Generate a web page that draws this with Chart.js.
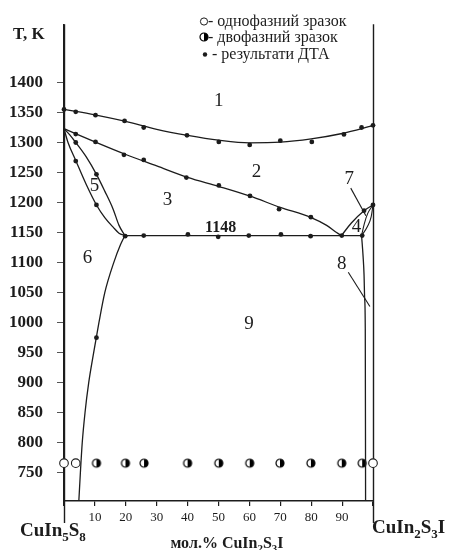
<!DOCTYPE html>
<html>
<head>
<meta charset="utf-8">
<title>CuIn5S8 - CuIn2S3I</title>
<script src="https://cdn.jsdelivr.net/npm/chart.js@4.4.0/dist/chart.umd.min.js"></script>
<style>
  html, body { margin: 0; padding: 0; background: #fff; }
  #wrap { width: 449px; height: 550px; }
</style>
</head>
<body>
<div id="wrap"><canvas id="phaseChart" width="449" height="550"></canvas></div>
<script>
// --- Tick values ---
const xTicks = [0, 10, 20, 30, 40, 50, 60, 70, 80, 90, 100];
const yTicks = [750, 800, 850, 900, 950, 1000, 1050, 1100, 1150, 1200, 1250, 1300, 1350, 1400];

// --- Lines of the diagram (mol.% CuIn2S3I, T in K) ---
// liquidus (top, border of field 1)
const liquidusX = [0, 10, 20, 30, 40, 50, 60, 70, 80, 90, 100];
const liquidusT = [1355, 1346, 1335, 1322, 1312, 1304, 1299.5, 1300.5, 1306, 1315, 1328];

// border 2 / 3, down to the eutectic
const line2X = [0, 10, 20, 30, 40, 50, 60, 70, 80, 85, 88.2, 89.8];
const line2T = [1323, 1301, 1280, 1261, 1242, 1227, 1211, 1192, 1175, 1162, 1150, 1145];

// eutectic horizontal
const eutecticX = [19.7, 96.3];
const eutecticT = [1145, 1145];

// lens 5 (inner and outer branch)
const lensInX = [0, 1.8, 3.8, 7.2, 10.5, 13.2, 15.9, 17.8, 19.7];
const lensInT = [1323, 1313, 1300, 1276, 1247, 1219, 1189, 1162, 1145];
const lensOutX = [0, 1.3, 3.8, 7.2, 10.5, 13.2, 15.9, 17.8, 19.7];
const lensOutT = [1323, 1300, 1270, 1230, 1196, 1175, 1159, 1149, 1145];

// solvus of the CuIn5S8 solid solution (border 6 / 9)
const solvusLX = [4.8, 5.3, 5.9, 6.8, 8.0, 9.6, 11.3, 13.2, 16.1, 18.3, 19.7];
const solvusLT = [703, 750, 800, 850, 900, 950, 1000, 1050, 1100, 1130, 1145];

// right side: liquidus from the eutectic, lens 7, solvus 8
const liqRightX = [89.8, 93, 97.1, 100];
const liqRightT = [1145, 1166, 1186.5, 1196];
const lens7aX = [96.3, 97.2, 98.3, 100];
const lens7aT = [1145, 1165, 1182, 1196];
const lens7bX = [96.3, 98.2, 99.4, 100];
const lens7bT = [1145, 1160, 1176, 1196];
const solvusRX = [96.3, 96.8, 97.1, 97.3, 97.5, 97.6];
const solvusRT = [1145, 1110, 1080, 1040, 990, 703];

// pointer lines for labels 7 and 8
const pointer7X = [92.8, 97.7];
const pointer7T = [1224, 1178];
const pointer8X = [92, 99];
const pointer8T = [1084, 1027];

// --- Measured points ---
// DTA results
const dtaX = [0, 3.8, 10.2, 19.6, 25.8, 39.8, 50.1, 60.1, 70, 80.2, 90.6, 96.3, 100,
              3.8, 10.2, 19.4, 25.8, 39.6, 50.1, 60.2, 69.6, 79.9,
              3.8, 10.5, 3.8, 10.5, 10.5,
              19.8, 25.8, 40.1, 49.9, 59.8, 70.2, 79.8, 89.9, 96.5,
              97.1, 100];
const dtaT = [1355, 1351, 1345.5, 1336, 1325, 1312, 1301, 1296, 1303, 1301, 1313.5, 1325, 1328.6,
              1314, 1301, 1279.4, 1271, 1241.6, 1228.6, 1211, 1189, 1175.6,
              1300, 1247, 1269, 1196, 975,
              1144, 1145, 1147, 1143, 1145, 1147, 1144, 1145, 1145,
              1186.5, 1196];

// samples after annealing
const sampleT = 766;
const singlePhaseX = [0, 3.8, 100];
const twoPhaseX = [10.5, 19.9, 25.9, 40, 50.1, 60.1, 69.9, 79.9, 89.9, 96.5];

// field labels
const regionLabels = ['1', '2', '3', '4', '5', '6', '7', '8', '9'];
const regionX = [50.1, 62.3, 33.5, 94.7, 9.9, 7.6, 92.3, 89.9, 59.9];
const regionT = [1369, 1251, 1205, 1159, 1227, 1108, 1240, 1097, 997];

// --- Helpers ---
const SERIF = "'Liberation Serif', 'Times New Roman', serif";
const INK = '#1c1c1c';

function toPoints(xs, ys) {
    return xs.map((x, i) => ({ x: x, y: ys[i] }));
}

// smooth line through the points (x must grow)
function curve(xs, ys, smooth = true, width = 1.3) {
    return {
        data: toPoints(xs, ys),
        showLine: true,
        borderColor: INK,
        borderWidth: width,
        pointRadius: 0,
        cubicInterpolationMode: smooth ? 'monotone' : 'default',
        tension: 0
    };
}

// half filled circle as point style
function makeHalfCircle(r) {
    const c = document.createElement('canvas');
    const s = 2 * Math.ceil(r + 1.5);
    c.width = s; c.height = s;
    const g = c.getContext('2d');
    const m = s / 2;
    g.fillStyle = '#fff';
    g.beginPath(); g.arc(m, m, r, 0, Math.PI * 2); g.fill();
    g.fillStyle = '#000';
    g.beginPath(); g.arc(m, m, r, -Math.PI / 2, Math.PI / 2); g.closePath(); g.fill();
    g.strokeStyle = '#000'; g.lineWidth = 1.2;
    g.beginPath(); g.arc(m, m, r, 0, Math.PI * 2); g.stroke();
    return c;
}
const halfCircle = makeHalfCircle(4);

// text with subscripts, parts = [[text, isSub], ...]
function drawSubText(ctx, parts, x, y, size, align) {
    const big = `bold ${size}px ${SERIF}`;
    const small = `bold ${Math.round(size * 0.68)}px ${SERIF}`;
    let w = 0;
    parts.forEach(([t, sub]) => { ctx.font = sub ? small : big; w += ctx.measureText(t).width; });
    let cx = align === 'center' ? x - w / 2 : x;
    ctx.textAlign = 'left';
    ctx.textBaseline = 'alphabetic';
    parts.forEach(([t, sub]) => {
        ctx.font = sub ? small : big;
        ctx.fillText(t, cx, sub ? y + size * 0.27 : y);
        cx += ctx.measureText(t).width;
    });
}

// frame on the right and the long ticks at 0 and 100
const framePlugin = {
    id: 'frame',
    beforeDatasetsDraw(chart) {
        const { ctx, chartArea, scales: { x } } = chart;
        ctx.save();
        ctx.strokeStyle = INK;
        ctx.lineWidth = 1.4;
        [0, 100].forEach(v => {
            const px = Math.round(x.getPixelForValue(v)) + 0.5;
            ctx.beginPath();
            ctx.moveTo(px, chartArea.top);
            ctx.lineTo(px, chartArea.bottom + 22);
            ctx.stroke();
        });
        ctx.restore();
    }
};

// field numbers, legend and axis names
const textPlugin = {
    id: 'texts',
    afterDatasetsDraw(chart) {
        const { ctx, scales: { x, y } } = chart;
        ctx.save();
        ctx.fillStyle = INK;
        ctx.textAlign = 'center';
        ctx.textBaseline = 'middle';
        ctx.font = `19px ${SERIF}`;
        regionLabels.forEach((t, i) => {
            ctx.fillText(t, x.getPixelForValue(regionX[i]), y.getPixelForValue(regionT[i]));
        });
        ctx.font = `bold 16px ${SERIF}`;
        ctx.fillText('1148', x.getPixelForValue(50.7), y.getPixelForValue(1158));

        // legend
        ctx.textAlign = 'left';
        ctx.textBaseline = 'alphabetic';
        ctx.font = `16px ${SERIF}`;
        ctx.fillText('- однофазний зразок', 208, 26);
        ctx.fillText('- двофазний зразок', 208, 42);
        ctx.fillText('- результати ДТА', 212, 59);
        ctx.strokeStyle = INK;
        ctx.lineWidth = 1;
        ctx.fillStyle = '#fff';
        ctx.beginPath(); ctx.arc(204, 21.5, 3.6, 0, Math.PI * 2); ctx.fill(); ctx.stroke();
        ctx.drawImage(halfCircle, 204 - halfCircle.width / 2, 37 - halfCircle.height / 2);
        ctx.fillStyle = INK;
        ctx.beginPath(); ctx.arc(205, 54.5, 2.2, 0, Math.PI * 2); ctx.fill();

        // axis names
        ctx.font = `bold 17px ${SERIF}`;
        ctx.fillText('T, K', 13, 39);
        drawSubText(ctx, [['CuIn', 0], ['5', 1], ['S', 0], ['8', 1]], 20, 536, 19, 'left');
        drawSubText(ctx, [['CuIn', 0], ['2', 1], ['S', 0], ['3', 1], ['I', 0]], 372, 533, 19, 'left');
        drawSubText(ctx, [['мол.% CuIn', 0], ['2', 1], ['S', 0], ['3', 1], ['I', 0]], 227, 548, 16, 'center');
        ctx.restore();
    }
};

// --- Chart ---
const datasets = [
    curve(liquidusX, liquidusT),
    curve(line2X, line2T),
    curve(eutecticX, eutecticT, false),
    curve(lensInX, lensInT),
    curve(lensOutX, lensOutT),
    curve(solvusLX, solvusLT),
    curve(liqRightX, liqRightT),
    curve(lens7aX, lens7aT, true, 1.1),
    curve(lens7bX, lens7bT, true, 1.1),
    curve(solvusRX, solvusRT),
    curve(pointer7X, pointer7T, false, 1.1),
    curve(pointer8X, pointer8T, false, 1.1),
    {
        data: toPoints(dtaX, dtaT),
        pointRadius: 2.4,
        pointBackgroundColor: INK,
        pointBorderWidth: 0
    },
    {
        data: singlePhaseX.map(x => ({ x: x, y: sampleT })),
        pointRadius: 4.3,
        pointBackgroundColor: '#fff',
        pointBorderColor: INK,
        pointBorderWidth: 1.1
    },
    {
        data: twoPhaseX.map(x => ({ x: x, y: sampleT })),
        pointStyle: halfCircle
    }
];

new Chart(document.getElementById('phaseChart'), {
    type: 'scatter',
    data: { datasets: datasets },
    options: {
        responsive: false,
        devicePixelRatio: 1,
        animation: false,
        clip: false,
        events: [],
        layout: { padding: { left: 0, right: 76, top: 12, bottom: 0 } },
        plugins: {
            legend: { display: false },
            tooltip: { enabled: false }
        },
        scales: {
            x: {
                type: 'linear',
                min: 0,
                max: 100,
                afterBuildTicks: scale => { scale.ticks = xTicks.map(v => ({ value: v })); },
                afterFit: scale => { scale.height = 49; },
                ticks: {
                    autoSkip: false,
                    maxRotation: 0,
                    padding: 4,
                    color: INK,
                    font: { family: SERIF, size: 13 },
                    callback: v => (v > 0 && v < 100) ? String(v) : ''
                },
                grid: { drawOnChartArea: false, tickLength: 5, color: INK, lineWidth: 1.2 },
                border: { color: INK, width: 1.4 }
            },
            y: {
                type: 'linear',
                min: 703,
                max: 1497,
                afterBuildTicks: scale => { scale.ticks = yTicks.map(v => ({ value: v })); },
                afterFit: scale => { scale.width = 64; },
                ticks: {
                    padding: 14,
                    color: INK,
                    font: { family: SERIF, size: 17, weight: 'bold' },
                    callback: v => String(v)
                },
                grid: { drawOnChartArea: false, tickLength: 7, color: '#555', lineWidth: 1 },
                border: { color: INK, width: 1.4 }
            }
        }
    },
    plugins: [framePlugin, textPlugin]
});
</script>
</body>
</html>
